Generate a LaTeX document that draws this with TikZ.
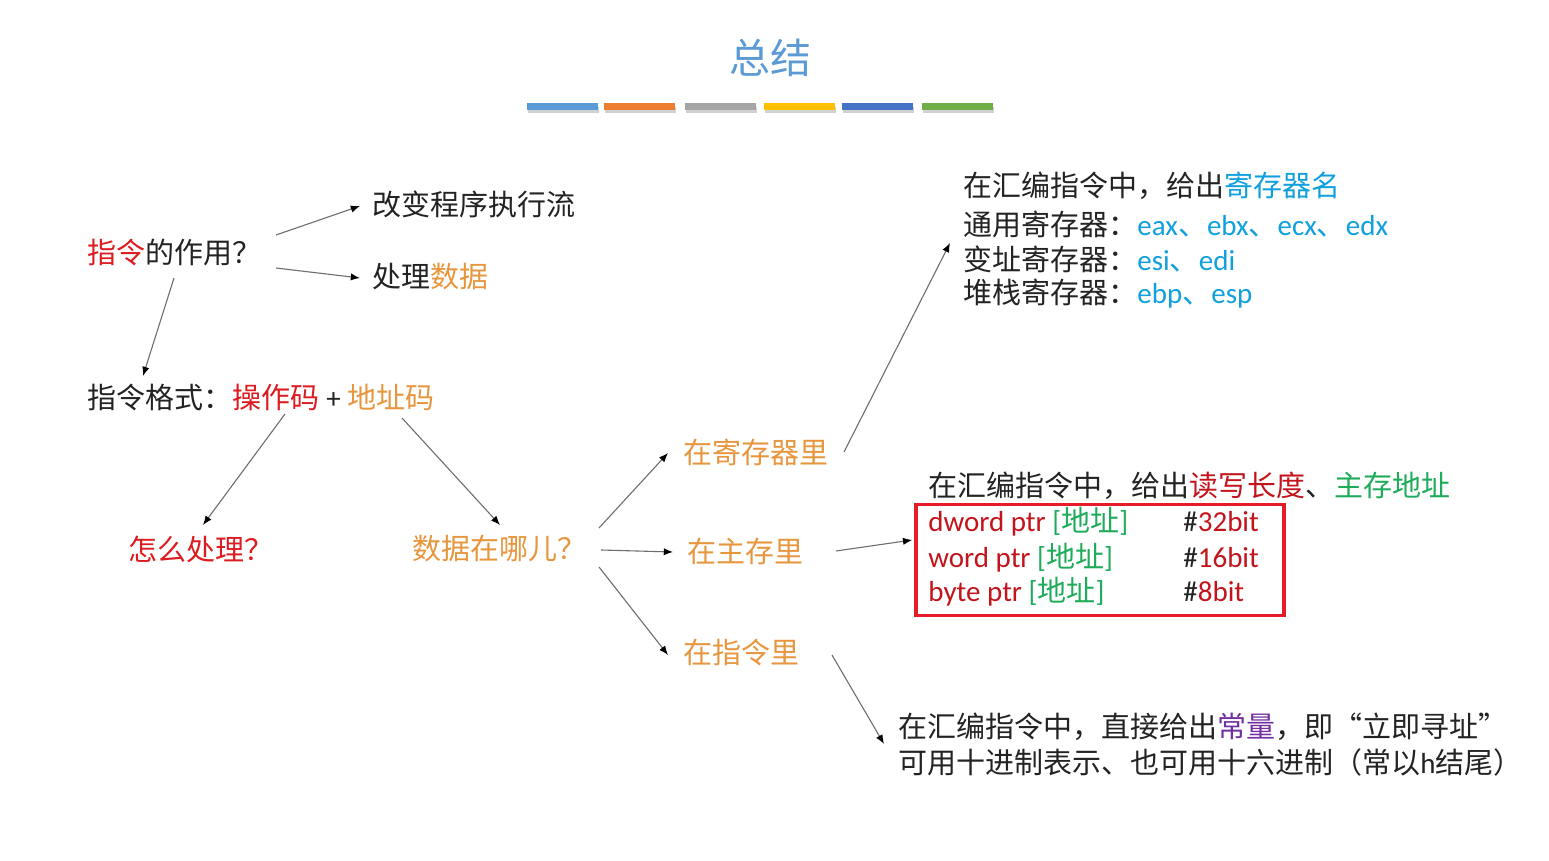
\documentclass[tikz,border=0pt]{standalone}
\usepackage{fontspec}
\setmainfont{Carlito}
\newfontfamily\cjk{Noto Sans CJK SC}
\newfontfamily\lat{Carlito}
\usetikzlibrary{arrows.meta,calc}
\definecolor{tblue}{RGB}{91,155,213}
\definecolor{ink}{RGB}{35,35,35}
\definecolor{myred}{RGB}{220,28,32}
\definecolor{dred}{RGB}{195,20,28}
\definecolor{myorange}{RGB}{232,150,62}
\definecolor{mycyan}{RGB}{16,160,222}
\definecolor{mygreen}{RGB}{30,172,90}
\definecolor{mypurple}{RGB}{112,48,160}
\definecolor{arrgray}{RGB}{110,110,110}
\definecolor{boxred}{RGB}{232,28,40}
\definecolor{barA}{RGB}{91,155,213}
\definecolor{barB}{RGB}{237,125,49}
\definecolor{barC}{RGB}{165,165,165}
\definecolor{barD}{RGB}{255,192,0}
\definecolor{barE}{RGB}{68,114,196}
\definecolor{barF}{RGB}{112,173,71}
\newcommand{\myopenq}{\makebox[1em][r]{“}}
\newcommand{\mycloseq}{\makebox[1em][l]{”}}
\begin{document}
\begin{tikzpicture}[x=0.5pt,y=-0.5pt,
  txt/.style={inner sep=0pt, anchor=west, font=\cjk\fontsize{14.5pt}{17pt}\selectfont, text=ink},
  arr/.style={draw=arrgray, line width=0.55pt, -{Latex[length=4.6pt,width=3.6pt,color=black]}}]
\useasboundingbox[fill=white] (0,0) rectangle (1549,861);

% title
\node[inner sep=0pt, font=\cjk\fontsize{20.5pt}{24pt}\selectfont, text=tblue] (title) at (770,58) {总结};
\foreach \x/\c in {527/barA,604/barB,685/barC,764/barD,842/barE,922/barF}{
  \fill[black!18] (\x+1,107) rectangle (\x+72,113);
  \fill[\c] (\x,103) rectangle (\x+71,110);
}

% left tree
\node[txt] (q) at (87,252) {{\color{myred}指令}的作用？};
\node[txt] (c1) at (372,204) {改变程序执行流};
\node[txt] (c2) at (372,277) {处理{\color{myorange}数据}};
\node[txt] (fmt) at (87,397) {指令格式：{\color{myred}操作码}\hspace{3.5pt}{\lat +}\hspace{3.5pt}{\color{myorange}地址码}};
\node[txt, text=myred] (how) at (128,549) {怎么处理？};
\node[txt, text=myorange] (where) at (412,549) {数据在哪儿？};
\node[txt, text=myorange] (reg) at (683,452) {在寄存器里};
\node[txt, text=myorange] (mem) at (687,551) {在主存里};
\node[txt, text=myorange] (ins) at (683,652) {在指令里};

% register block
\node[txt] (r1) at (963,186) {在汇编指令中，给出{\color{mycyan}寄存器名}};
\node[txt] (r2) at (963,224) {通用寄存器：{\color{mycyan}{\lat eax}、{\lat ebx}、{\lat ecx}、{\lat edx}}};
\node[txt] (r3) at (963,259) {变址寄存器：{\color{mycyan}{\lat esi}、{\lat edi}}};
\node[txt] (r4) at (963,294) {堆栈寄存器：{\color{mycyan}{\lat ebp}、{\lat esp}}};

% memory block
\node[txt] (m0) at (928,486) {在汇编指令中，给出{\color{dred}读写长度}、{\color{mygreen}主存地址}};
\node[draw=boxred, line width=1.8pt, minimum width=184pt, minimum height=55.5pt, inner sep=0pt] (box) at (1100,560) {};
\node[txt] (d1) at (928,522) {{\lat\color{dred}dword ptr }{\color{mygreen}{\lat [}地址{\lat ]}}};
\node[txt] (d2) at (928,558) {{\lat\color{dred}word ptr }{\color{mygreen}{\lat [}地址{\lat ]}}};
\node[txt] (d3) at (928,592) {{\lat\color{dred}byte ptr }{\color{mygreen}{\lat [}地址{\lat ]}}};
\node[txt, font=\lat\fontsize{14.5pt}{17pt}\selectfont] (b1) at (1183,522) {\#{\color{dred}32bit}};
\node[txt, font=\lat\fontsize{14.5pt}{17pt}\selectfont] (b2) at (1183,558) {\#{\color{dred}16bit}};
\node[txt, font=\lat\fontsize{14.5pt}{17pt}\selectfont] (b3) at (1183,592) {\#{\color{dred}8bit}};

% immediate block
\node[txt] (i1) at (898,727) {在汇编指令中，直接给出{\color{mypurple}常量}，即\myopenq 立即寻址\mycloseq};
\node[txt] (i2) at (898,762) {可用十进制表示、也可用十六进制（常以{\lat h}结尾）};

% connectors
\draw[arr] ([shift={(189,-17)}]q.west) -- ([shift={(-12,2)}]c1.west);
\draw[arr] ([shift={(189,16)}]q.west) -- ([shift={(-12,1)}]c2.west);
\draw[arr] ([shift={(87,26)}]q.west) -- ([shift={(56,-21)}]fmt.west);
\draw[arr] ([shift={(198,17)}]fmt.west) -- ([shift={(75,-24)}]how.west);
\draw[arr] ([shift={(315,21)}]fmt.west) -- ([shift={(88,-24)}]where.west);
\draw[arr] ([shift={(187,-21)}]where.west) -- ([shift={(-15,1)}]reg.west);
\draw[arr] ([shift={(189,1)}]where.west) -- ([shift={(-14,1)}]mem.west);
\draw[arr] ([shift={(187,18)}]where.west) -- ([shift={(-15,3)}]ins.west);
\draw[arr] ([shift={(161,0)}]reg.west) -- ([shift={(-13,-16)}]r3.west);
\draw[arr] ([shift={(149,0)}]mem.west) -- ([shift={(-2,-20)}]box.west);
\draw[arr] ([shift={(149,3)}]ins.west) -- ([shift={(-14,17)}]i1.west);
\end{tikzpicture}
\end{document}
